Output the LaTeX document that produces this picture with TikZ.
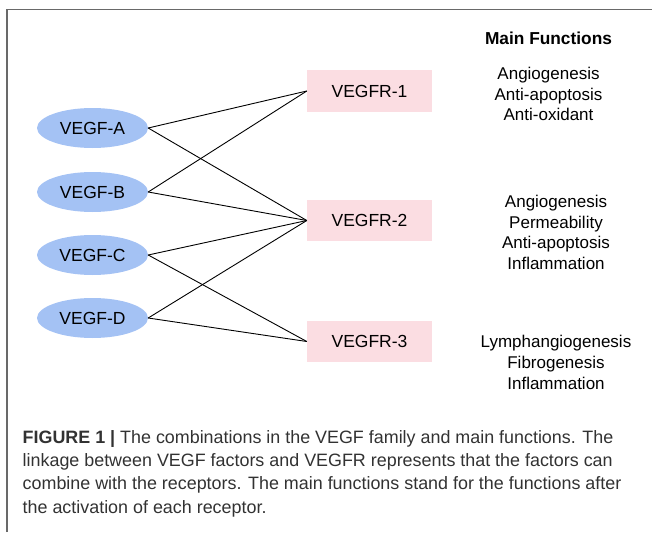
\documentclass[tikz,border=0pt]{standalone}
\usepackage{fontspec}
\setmainfont{Liberation Sans}
\usetikzlibrary{shapes.geometric}
\definecolor{factorblue}{RGB}{164,194,244}
\definecolor{receptorpink}{RGB}{251,221,226}
\definecolor{framegray}{RGB}{105,105,105}
\definecolor{captiongray}{RGB}{50,50,50}
\begin{document}
\begin{tikzpicture}[x=1pt,y=-1pt,
  factor/.style={ellipse, fill=factorblue, minimum width=111pt, minimum height=40pt,
    inner sep=0pt, font=\fontsize{17.5}{20}\selectfont},
  receptor/.style={rectangle, fill=receptorpink, minimum width=125pt, minimum height=41pt,
    inner sep=0pt, font=\fontsize{17.5}{20}\selectfont},
  link/.style={draw=black, line width=0.9pt},
  funclist/.style={align=center, inner sep=0pt, font=\fontsize{17}{20.7}\selectfont},
  captionline/.style={anchor=base west, inner sep=0pt, text=captiongray,
    font=\fontsize{17.9}{23}\selectfont}]
\useasboundingbox (0,0) rectangle (652,532);
% frame
\draw[framegray, line width=1.2pt] (7,532) -- (7,9.5) -- (652,9.5);

% growth factors
\node[factor] (A) at (92.5,128) {VEGF-A};
\node[factor] (B) at (92.5,192) {VEGF-B};
\node[factor] (C) at (92.5,255) {VEGF-C};
\node[factor] (D) at (92.5,318) {VEGF-D};

% receptors
\node[receptor] (R1) at (369.5,91) {VEGFR-1};
\node[receptor] (R2) at (369.5,220.5) {VEGFR-2};
\node[receptor] (R3) at (369.5,341.5) {VEGFR-3};

% binding links
\draw[link] (A.east) -- (R1.west);
\draw[link] (A.east) -- (R2.west);
\draw[link] (B.east) -- (R1.west);
\draw[link] (B.east) -- (R2.west);
\draw[link] (C.east) -- (R2.west);
\draw[link] (C.east) -- (R3.west);
\draw[link] (D.east) -- (R2.west);
\draw[link] (D.east) -- (R3.west);

% main functions
\node[font=\bfseries\fontsize{17.3}{20}\selectfont, inner sep=0pt] (title) at (548.5,38) {Main Functions};
\node[funclist] (F1) at (548.5,94) {Angiogenesis\\Anti-apoptosis\\Anti-oxidant};
\node[funclist] (F2) at (556,232.5) {Angiogenesis\\Permeability\\Anti-apoptosis\\Inflammation};
\node[funclist] (F3) at (556,362.5) {Lymphangiogenesis\\Fibrogenesis\\Inflammation};

% caption
\node[captionline] (cap1) at (22.5,443) {\textbf{FIGURE 1 |} The combinations in the VEGF family and main functions. The};
\node[captionline] (cap2) at (22.5,466.3) {linkage between VEGF factors and VEGFR represents that the factors can};
\node[captionline] (cap3) at (22.5,489.6) {combine with the receptors. The main functions stand for the functions after};
\node[captionline] (cap4) at (22.5,513) {the activation of each receptor.};
\end{tikzpicture}
\end{document}
